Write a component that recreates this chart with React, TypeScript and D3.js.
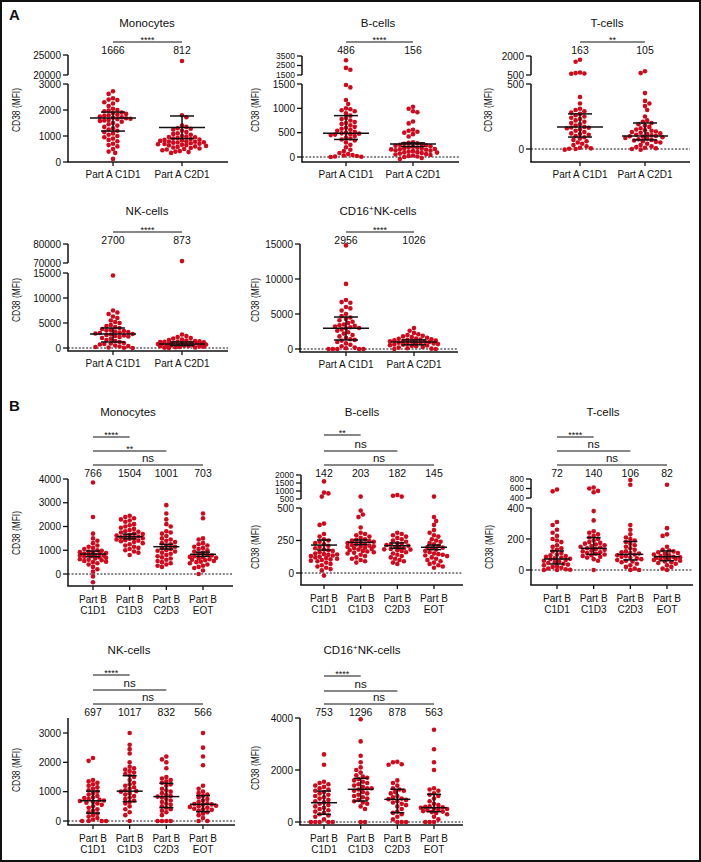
import React from 'react';
import * as d3 from 'd3';

const FONT = 'Liberation Sans, Arial, Helvetica, sans-serif';
const RED = '#cf0a1d';

// categories
const partACats = ['Part A C1D1', 'Part A C2D1'];
const partBCats = ['C1D1', 'C1D3', 'C2D3', 'EOT'];

// ---------- Part A ----------
// Monocytes
const monoA_C1D1 = [2720, 2620, 2450, 2400, 2380, 2300, 2250, 2150, 2050, 2000, 1980, 1950, 1900, 1880, 1850, 1820, 1800, 1780, 1750, 1720, 1700, 1680, 1666, 1650, 1620, 1600, 1580, 1550, 1500, 1450, 1400, 1350, 1300, 1250, 1200, 1150, 1100, 1050, 1000, 950, 900, 850, 800, 700, 650, 600, 500, 400, 350, 120];
const monoA_C2D1 = [23500, 1800, 1720, 1400, 1350, 1300, 1280, 1250, 1200, 1150, 1100, 1080, 1050, 1000, 980, 960, 950, 920, 900, 880, 860, 850, 830, 812, 800, 790, 780, 760, 750, 740, 720, 700, 690, 680, 660, 650, 640, 620, 600, 580, 560, 540, 520, 500, 480, 450, 420, 400, 380, 350];
const monoA_center = [1690, 1330];
const monoA_hi = [1920, 1770];
const monoA_lo = [1190, 900];
const monoA_medians = ['1666', '812'];
const monoA_sig = ['****'];

// B-cells
const bA_C1D1 = [3050, 2250, 2050, 1480, 1430, 1170, 1090, 1000, 980, 960, 940, 900, 850, 800, 780, 750, 720, 700, 680, 650, 620, 600, 580, 560, 540, 520, 500, 486, 480, 470, 460, 450, 430, 400, 380, 360, 340, 300, 250, 200, 150, 120, 80, 60, 40, 30, 20, 10, 5, 0];
const bA_C2D1 = [1030, 990, 940, 920, 730, 690, 560, 540, 520, 500, 470, 420, 300, 290, 280, 270, 260, 250, 240, 230, 220, 210, 200, 190, 180, 170, 165, 160, 156, 150, 140, 130, 120, 110, 100, 95, 90, 80, 70, 60, 50, 40, 30, 20, 10, 0, -20, -40];
const bA_center = [490, 265];
const bA_hi = [850, 290];
const bA_lo = [360, 215];
const bA_medians = ['486', '156'];
const bA_sig = ['****'];

// T-cells
const tA_C1D1 = [1700, 1550, 700, 650, 620, 600, 400, 350, 310, 300, 290, 280, 270, 260, 250, 240, 230, 220, 210, 200, 190, 180, 170, 165, 163, 160, 150, 140, 130, 120, 115, 110, 100, 90, 80, 70, 60, 50, 40, 30, 20, 10, 5, 2, 0, -5];
const tA_C2D1 = [800, 650, 430, 370, 350, 330, 300, 250, 220, 210, 200, 190, 180, 170, 160, 150, 145, 140, 135, 130, 125, 120, 115, 110, 105, 100, 98, 95, 90, 85, 80, 75, 70, 65, 60, 55, 50, 40, 30, 20, 15, 10, 5, 0, -5];
const tA_center = [169, 100];
const tA_hi = [270, 200];
const tA_lo = [92, 70];
const tA_medians = ['163', '105'];
const tA_sig = ['**'];

// NK-cells
const nkA_C1D1 = [14500, 7500, 7100, 6800, 6300, 6000, 5500, 5200, 5000, 4600, 4400, 4200, 4000, 3800, 3600, 3500, 3400, 3300, 3200, 3100, 3000, 2900, 2800, 2700, 2600, 2500, 2400, 2300, 2200, 2000, 1800, 1600, 1400, 1200, 1000, 900, 800, 700, 500, 400, 300, 200, 100, 50, 0];
const nkA_C2D1 = [71000, 2700, 2400, 2200, 2000, 1900, 1700, 1600, 1500, 1400, 1350, 1300, 1250, 1200, 1150, 1100, 1050, 1000, 950, 900, 873, 850, 800, 750, 700, 650, 600, 550, 500, 450, 400, 350, 300, 250, 200, 150, 100, 50, 0];
const nkA_center = [2800, 800];
const nkA_hi = [4000, 1200];
const nkA_lo = [1200, 500];
const nkA_medians = ['2700', '873'];
const nkA_sig = ['****'];

// CD16+ NK-cells
const cdA_C1D1 = [14800, 9300, 7000, 6700, 6600, 6000, 5800, 5500, 5000, 4700, 4500, 4300, 4100, 3900, 3700, 3500, 3400, 3300, 3200, 3100, 3000, 2956, 2800, 2600, 2400, 2200, 2000, 1800, 1600, 1400, 1300, 1200, 1000, 800, 600, 400, 200, 100, 0, 0, 0, 0, 0];
const cdA_C2D1 = [3000, 2600, 2300, 2100, 2000, 1900, 1800, 1700, 1600, 1500, 1450, 1400, 1350, 1300, 1250, 1200, 1150, 1100, 1050, 1026, 1000, 950, 900, 850, 800, 750, 700, 650, 600, 550, 500, 450, 400, 300, 200, 100, 50, 0, 0];
const cdA_center = [2956, 1000];
const cdA_hi = [4570, 1300];
const cdA_lo = [1290, 600];
const cdA_medians = ['2956', '1026'];
const cdA_sig = ['****'];

// ---------- Part B ----------
// Monocytes
const monoB_C1D1 = [3850, 2400, 1700, 1500, 1400, 1300, 1200, 1150, 1100, 1050, 1000, 980, 950, 920, 900, 880, 860, 840, 820, 800, 780, 766, 750, 730, 700, 680, 650, 620, 600, 580, 550, 520, 500, 450, 400, 300, 200, 100, -100, -350];
const monoB_C1D3 = [2450, 2400, 2350, 2300, 2250, 2200, 2100, 2050, 2000, 1950, 1900, 1850, 1800, 1780, 1750, 1700, 1680, 1650, 1620, 1600, 1580, 1550, 1520, 1504, 1480, 1450, 1420, 1400, 1380, 1350, 1300, 1250, 1200, 1150, 1100, 1050, 1000, 950, 900, 800];
const monoB_C2D3 = [2900, 2550, 2300, 2100, 2000, 1800, 1750, 1700, 1600, 1500, 1450, 1400, 1350, 1300, 1250, 1200, 1150, 1100, 1050, 1001, 980, 950, 900, 850, 800, 750, 700, 650, 600, 550, 500, 450, 400, 350, 300];
const monoB_EOT = [2550, 2350, 1500, 1450, 1300, 1250, 1200, 1150, 1100, 1050, 1000, 950, 900, 850, 800, 780, 750, 720, 703, 680, 650, 620, 600, 580, 550, 520, 500, 450, 400, 350, 300, 250, 150, 0];
const monoB_center = [842, 1570, 1150, 830];
const monoB_hi = [968, 1680, 1250, 920];
const monoB_lo = [730, 1480, 1050, 740];
const monoB_medians = ['766', '1504', '1001', '703'];
const monoB_sig = ['****', '**', 'ns'];

// B-cells
const bB_C1D1 = [1600, 900, 850, 650, 380, 370, 300, 280, 260, 250, 240, 230, 220, 210, 200, 190, 180, 175, 170, 160, 150, 145, 142, 140, 135, 130, 125, 120, 115, 110, 105, 100, 95, 90, 80, 70, 60, 50, 40, 30, 20, -20];
const bB_C1D3 = [650, 480, 450, 430, 350, 310, 300, 290, 280, 270, 260, 255, 250, 245, 240, 235, 230, 225, 220, 215, 210, 205, 203, 200, 195, 190, 185, 180, 175, 170, 165, 160, 155, 150, 140, 130, 120, 110, 100, 90, 80];
const bB_C2D3 = [750, 700, 650, 310, 300, 290, 280, 270, 260, 250, 240, 230, 225, 220, 215, 210, 200, 195, 190, 185, 182, 180, 175, 170, 160, 150, 140, 130, 120, 110, 100, 90, 80, 70];
const bB_EOT = [650, 430, 400, 370, 330, 310, 290, 280, 260, 250, 240, 230, 220, 210, 200, 195, 190, 180, 170, 160, 150, 145, 140, 135, 130, 120, 110, 100, 90, 80, 70, 60, 50, 40];
const bB_center = [215, 236, 210, 198];
const bB_hi = [254, 254, 231, 215];
const bB_lo = [177, 218, 190, 180];
const bB_medians = ['142', '203', '182', '145'];
const bB_sig = ['**', 'ns', 'ns'];

// T-cells
const tB_C1D1 = [580, 540, 310, 290, 260, 240, 220, 200, 190, 180, 160, 150, 140, 130, 120, 110, 100, 95, 90, 85, 80, 75, 72, 70, 65, 60, 55, 50, 45, 40, 35, 30, 25, 20, 15, 10, 5, 2, 0, 0];
const tB_C1D3 = [620, 600, 550, 520, 380, 320, 250, 240, 230, 220, 210, 200, 190, 180, 175, 170, 165, 160, 155, 150, 145, 140, 135, 130, 125, 120, 115, 110, 105, 100, 95, 90, 85, 80, 70, 60, 0];
const tB_C2D3 = [780, 680, 290, 260, 230, 210, 200, 190, 180, 170, 160, 150, 140, 130, 120, 115, 110, 106, 100, 95, 90, 85, 80, 75, 70, 65, 60, 55, 50, 40, 30, 20, 10, 0, 0];
const tB_EOT = [680, 270, 230, 220, 150, 130, 125, 120, 115, 110, 105, 100, 95, 90, 85, 82, 80, 78, 75, 72, 70, 65, 60, 55, 50, 45, 40, 30, 20, 10, 0];
const tB_center = [71, 140, 101, 86];
const tB_hi = [123, 209, 184, 123];
const tB_lo = [39, 101, 65, 60];
const tB_medians = ['72', '140', '106', '82'];
const tB_sig = ['****', 'ns', 'ns'];

// NK-cells
const nkB_C1D1 = [2150, 2050, 1400, 1350, 1300, 1250, 1200, 1150, 1100, 1050, 1000, 950, 900, 850, 800, 780, 750, 720, 697, 680, 650, 620, 600, 550, 500, 450, 400, 350, 300, 250, 200, 150, 100, 50, 0, 0, 0, 0];
const nkB_C1D3 = [3000, 2600, 2450, 2300, 2000, 1850, 1800, 1750, 1700, 1650, 1600, 1550, 1500, 1400, 1300, 1250, 1200, 1150, 1100, 1050, 1017, 1000, 950, 900, 850, 800, 750, 700, 650, 600, 500, 400, 300, 200, 0];
const nkB_C2D3 = [2200, 2100, 2000, 1800, 1500, 1450, 1400, 1350, 1300, 1250, 1200, 1100, 1050, 1000, 950, 900, 850, 832, 800, 750, 700, 650, 600, 550, 500, 450, 400, 350, 300, 200, 0, 0, 0, 0];
const nkB_EOT = [3000, 2500, 2200, 1900, 1200, 1100, 1000, 950, 900, 850, 800, 750, 700, 650, 600, 580, 566, 550, 520, 500, 480, 450, 420, 400, 380, 350, 300, 250, 200, 100, 0, 0];
const nkB_center = [690, 1017, 832, 570];
const nkB_hi = [1020, 1545, 1285, 865];
const nkB_lo = [270, 660, 455, 320];
const nkB_medians = ['697', '1017', '832', '566'];
const nkB_sig = ['****', 'ns', 'ns'];

// CD16+ NK-cells
const cdB_C1D1 = [2600, 2200, 1550, 1500, 1450, 1400, 1350, 1300, 1250, 1200, 1150, 1100, 1050, 1000, 950, 900, 850, 800, 753, 700, 650, 600, 550, 500, 450, 400, 350, 300, 250, 200, 100, 0, 0, 0, 0, 0];
const cdB_C1D3 = [3950, 3100, 2550, 2300, 2100, 2000, 1900, 1800, 1750, 1700, 1650, 1600, 1550, 1500, 1450, 1400, 1350, 1300, 1296, 1250, 1200, 1150, 1100, 1050, 1000, 950, 900, 850, 800, 750, 700, 600, 500, 0, 0];
const cdB_C2D3 = [2320, 2300, 2220, 2200, 1600, 1500, 1400, 1300, 1250, 1200, 1150, 1100, 1000, 950, 900, 878, 850, 800, 750, 700, 650, 600, 500, 400, 350, 300, 200, 100, 0, 0, 0];
const cdB_EOT = [3550, 2800, 2300, 2000, 1300, 1250, 1200, 1100, 1050, 1000, 900, 800, 700, 650, 600, 580, 563, 550, 520, 500, 480, 450, 420, 400, 380, 350, 300, 200, 100, 0, 0, 0];
const cdB_center = [742, 1257, 873, 550];
const cdB_hi = [1190, 1680, 1258, 1065];
const cdB_lo = [296, 808, 358, 396];
const cdB_medians = ['753', '1296', '878', '563'];
const cdB_sig = ['****', 'ns', 'ns'];

// axis tick values
const monoA_ticks = [0, 1000, 2000, 3000];
const monoA_upTicks = [20000, 25000];
const bA_ticks = [0, 500, 1000, 1500];
const bA_upTicks = [1500, 2500, 3500];
const tA_ticks = [0, 500];
const tA_upTicks = [500, 2000];
const nkA_ticks = [0, 5000, 10000, 15000];
const nkA_upTicks = [70000, 80000];
const cdA_ticks = [0, 5000, 10000, 15000];
const monoB_ticks = [0, 1000, 2000, 3000, 4000];
const bB_ticks = [0, 250, 500];
const bB_upTicks = [500, 1000, 1500, 2000];
const tB_ticks = [0, 200, 400];
const tB_upTicks = [400, 600, 800];
const nkB_ticks = [0, 1000, 2000, 3000];
const cdB_ticks = [0, 2000, 4000];

type Panel = {
  title: string;
  sup?: boolean;
  partB: boolean;
  cats: string[];
  groups: number[][];
  center: number[];
  hi: number[];
  lo: number[];
  medians: string[];
  sig: string[];
  ticks: number[];
  ticksPx: [number, number];
  axisTop: number;
  upTicks?: number[];
  upPx?: [number, number];
  x0: number;
  x1: number;
  axisY: number;
  catRange: [number, number];
  zeroLine: boolean;
  titleX: number;
  titleY: number;
  ylabX: number;
  ylabY: number;
  sigY: number[];
  medY: number;
};

const panels: Panel[] = [
  {
    title: 'Monocytes', partB: false, cats: partACats, groups: [monoA_C1D1, monoA_C2D1],
    center: monoA_center, hi: monoA_hi, lo: monoA_lo, medians: monoA_medians, sig: monoA_sig,
    ticks: monoA_ticks, ticksPx: [162, 84], axisTop: 84, upTicks: monoA_upTicks, upPx: [75, 55],
    x0: 68, x1: 228, axisY: 162, catRange: [113, 182], zeroLine: false,
    titleX: 147, titleY: 27, ylabX: 20, ylabY: 110, sigY: [42], medY: 54,
  },
  {
    title: 'B-cells', partB: false, cats: partACats, groups: [bA_C1D1, bA_C2D1],
    center: bA_center, hi: bA_hi, lo: bA_lo, medians: bA_medians, sig: bA_sig,
    ticks: bA_ticks, ticksPx: [157, 84], axisTop: 84, upTicks: bA_upTicks, upPx: [75, 56],
    x0: 302, x1: 459, axisY: 162, catRange: [346, 413], zeroLine: true,
    titleX: 378, titleY: 27, ylabX: 259, ylabY: 110, sigY: [42], medY: 54,
  },
  {
    title: 'T-cells', partB: false, cats: partACats, groups: [tA_C1D1, tA_C2D1],
    center: tA_center, hi: tA_hi, lo: tA_lo, medians: tA_medians, sig: tA_sig,
    ticks: tA_ticks, ticksPx: [149, 84], axisTop: 84, upTicks: tA_upTicks, upPx: [75, 56],
    x0: 531, x1: 690, axisY: 162, catRange: [580, 645], zeroLine: true,
    titleX: 607, titleY: 27, ylabX: 492, ylabY: 110, sigY: [42], medY: 54,
  },
  {
    title: 'NK-cells', partB: false, cats: partACats, groups: [nkA_C1D1, nkA_C2D1],
    center: nkA_center, hi: nkA_hi, lo: nkA_lo, medians: nkA_medians, sig: nkA_sig,
    ticks: nkA_ticks, ticksPx: [348, 273], axisTop: 273, upTicks: nkA_upTicks, upPx: [263, 244],
    x0: 68, x1: 228, axisY: 351, catRange: [113, 182], zeroLine: true,
    titleX: 147, titleY: 215, ylabX: 20, ylabY: 300, sigY: [232], medY: 244,
  },
  {
    title: 'CD16', sup: true, partB: false, cats: partACats, groups: [cdA_C1D1, cdA_C2D1],
    center: cdA_center, hi: cdA_hi, lo: cdA_lo, medians: cdA_medians, sig: cdA_sig,
    ticks: cdA_ticks, ticksPx: [349, 244], axisTop: 244,
    x0: 300, x1: 458, axisY: 352, catRange: [346, 414], zeroLine: true,
    titleX: 378, titleY: 215, ylabX: 259, ylabY: 300, sigY: [232], medY: 244,
  },
  {
    title: 'Monocytes', partB: true, cats: partBCats, groups: [monoB_C1D1, monoB_C1D3, monoB_C2D3, monoB_EOT],
    center: monoB_center, hi: monoB_hi, lo: monoB_lo, medians: monoB_medians, sig: monoB_sig,
    ticks: monoB_ticks, ticksPx: [574, 479], axisTop: 479,
    x0: 68, x1: 233, axisY: 586, catRange: [93, 203], zeroLine: true,
    titleX: 128, titleY: 416, ylabX: 20, ylabY: 533, sigY: [437, 451, 465], medY: 477,
  },
  {
    title: 'B-cells', partB: true, cats: partBCats, groups: [bB_C1D1, bB_C1D3, bB_C2D3, bB_EOT],
    center: bB_center, hi: bB_hi, lo: bB_lo, medians: bB_medians, sig: bB_sig,
    ticks: bB_ticks, ticksPx: [573, 508], axisTop: 508, upTicks: bB_upTicks, upPx: [499, 475],
    x0: 301, x1: 463, axisY: 585, catRange: [324, 434], zeroLine: true,
    titleX: 362, titleY: 416, ylabX: 259, ylabY: 547, sigY: [435, 451, 465], medY: 477,
  },
  {
    title: 'T-cells', partB: true, cats: partBCats, groups: [tB_C1D1, tB_C1D3, tB_C2D3, tB_EOT],
    center: tB_center, hi: tB_hi, lo: tB_lo, medians: tB_medians, sig: tB_sig,
    ticks: tB_ticks, ticksPx: [570, 508], axisTop: 508, upTicks: tB_upTicks, upPx: [498, 479],
    x0: 531, x1: 693, axisY: 585, catRange: [557, 667], zeroLine: true,
    titleX: 603, titleY: 416, ylabX: 493, ylabY: 547, sigY: [437, 451, 465], medY: 477,
  },
  {
    title: 'NK-cells', partB: true, cats: partBCats, groups: [nkB_C1D1, nkB_C1D3, nkB_C2D3, nkB_EOT],
    center: nkB_center, hi: nkB_hi, lo: nkB_lo, medians: nkB_medians, sig: nkB_sig,
    ticks: nkB_ticks, ticksPx: [821, 733], axisTop: 718,
    x0: 68, x1: 235, axisY: 825, catRange: [93, 203], zeroLine: true,
    titleX: 129, titleY: 654, ylabX: 20, ylabY: 770, sigY: [675, 690, 704], medY: 716,
  },
  {
    title: 'CD16', sup: true, partB: true, cats: partBCats, groups: [cdB_C1D1, cdB_C1D3, cdB_C2D3, cdB_EOT],
    center: cdB_center, hi: cdB_hi, lo: cdB_lo, medians: cdB_medians, sig: cdB_sig,
    ticks: cdB_ticks, ticksPx: [822, 718], axisTop: 718,
    x0: 300, x1: 463, axisY: 825, catRange: [324, 434], zeroLine: true,
    titleX: 362, titleY: 654, ylabX: 259, ylabY: 768, sigY: [676, 691, 704], medY: 716,
  },
];

const R = 2.3;

// beeswarm placement within a max half-width; overlaps allowed when crowded
function swarm(ys: number[], cx: number, d: number, maxW: number): number[] {
  const order = d3.range(ys.length).sort((a, b) => ys[a] - ys[b]);
  const placed: [number, number][] = [];
  const xs = new Array(ys.length).fill(cx);
  const step = d * 0.5;
  const nSteps = Math.floor(maxW / step);
  order.forEach((i, n) => {
    const y = ys[i];
    const near = placed.filter((p) => Math.abs(p[1] - y) < d);
    let best = cx;
    let bestD = -1;
    for (let k = 0; k <= nSteps * 2; k++) {
      const sign = (k % 2 === 1 ? 1 : -1) * (n % 2 === 0 ? 1 : -1);
      const x = cx + (k === 0 ? 0 : sign * Math.ceil(k / 2) * step);
      const md = near.length ? d3.min(near, (p) => (p[0] - x) ** 2 + (p[1] - y) ** 2)! : Infinity;
      if (md >= d * d) {
        best = x;
        bestD = md;
        break;
      }
      if (md > bestD) {
        bestD = md;
        best = x;
      }
    }
    xs[i] = best;
    placed.push([best, y]);
  });
  return xs;
}

function PanelChart({ p }: { p: Panel }) {
  const lower = d3.scaleLinear().domain([p.ticks[0], p.ticks[p.ticks.length - 1]]).range(p.ticksPx);
  const upper = p.upTicks && p.upPx
    ? d3.scaleLinear().domain([p.upTicks[0], p.upTicks[p.upTicks.length - 1]]).range(p.upPx)
    : null;
  const lowMax = p.ticks[p.ticks.length - 1];
  const yv = (v: number) => (upper && v > lowMax ? upper(v) : lower(v));
  const x = d3.scalePoint<string>().domain(p.cats).range(p.catRange);
  const cw = p.partB ? 13 : 23;
  const capW = p.partB ? 7 : 12;
  const maxW = p.partB ? 15 : 26;
  const sw = 1.5;
  const upFont = p.upTicks && p.upPx && Math.abs(p.upPx[0] - p.upPx[1]) / (p.upTicks.length - 1) < 10 ? 8.5 : 10;

  return (
    <g fontFamily={FONT}>
      {/* title */}
      <text x={p.titleX} y={p.titleY} textAnchor="middle" fontSize={11.5} fill="#111">
        {p.sup ? (
          <>
            CD16<tspan dy={-4} fontSize={8}>+</tspan>
            <tspan dy={4}>NK-cells</tspan>
          </>
        ) : p.title}
      </text>

      {/* significance brackets */}
      {p.sig.map((s, i) => {
        const xa = x(p.cats[0])!;
        const xb = x(p.cats[i + 1])!;
        const y = p.sigY[i];
        const ns = s === 'ns';
        return (
          <g key={'s' + i}>
            <line x1={xa} x2={xb} y1={y} y2={y} stroke="#111" strokeWidth={1.1} />
            <text x={(xa + xb) / 2} y={ns ? y - 3 : y + 1} textAnchor="middle" fontSize={ns ? 11.5 : 9} fill="#111">{s}</text>
          </g>
        );
      })}

      {/* medians */}
      {p.medians.map((m, i) => (
        <text key={'m' + i} x={x(p.cats[i])!} y={p.medY} textAnchor="middle" fontSize={10.5} fill="#111">{m}</text>
      ))}

      {/* zero line */}
      {p.zeroLine && (
        <line x1={p.x0} x2={p.x1} y1={lower(0)} y2={lower(0)} stroke="#111" strokeWidth={1} strokeDasharray="2,1.6" />
      )}

      {/* y axis lower */}
      <line x1={p.x0} x2={p.x0} y1={p.axisY} y2={p.axisTop} stroke="#111" strokeWidth={sw} />
      {p.ticks.map((t) => (
        <g key={'t' + t}>
          <line x1={p.x0 - 5} x2={p.x0} y1={lower(t)} y2={lower(t)} stroke="#111" strokeWidth={1.3} />
          <text x={p.x0 - 7} y={lower(t)} dy="0.35em" textAnchor="end" fontSize={10} fill="#111">{t}</text>
        </g>
      ))}
      {upper && p.upTicks && p.upPx && (
        <g>
          <line x1={p.x0} x2={p.x0} y1={p.upPx[0]} y2={p.upPx[1]} stroke="#111" strokeWidth={sw} />
          {p.upTicks.map((t) => (
            <g key={'u' + t}>
              <line x1={p.x0 - 5} x2={p.x0} y1={upper(t)} y2={upper(t)} stroke="#111" strokeWidth={1.3} />
              <text x={p.x0 - 7} y={upper(t)} dy="0.35em" textAnchor="end" fontSize={upFont} fill="#111">{t}</text>
            </g>
          ))}
        </g>
      )}
      <text
        transform={`translate(${p.ylabX},${p.ylabY}) rotate(-90)`}
        textAnchor="middle" fontSize={10.5} fill="#111"
        textLength={44} lengthAdjust="spacingAndGlyphs"
      >CD38 (MFI)</text>

      {/* x axis */}
      <line x1={p.x0 - sw / 2} x2={p.x1} y1={p.axisY} y2={p.axisY} stroke="#111" strokeWidth={sw} />
      {p.cats.map((c) => (
        <g key={'c' + c}>
          <line x1={x(c)!} x2={x(c)!} y1={p.axisY} y2={p.axisY + 4} stroke="#111" strokeWidth={1.3} />
          {p.partB ? (
            <>
              <text x={x(c)!} y={p.axisY + 16.5} textAnchor="middle" fontSize={10} fill="#111">Part B</text>
              <text x={x(c)!} y={p.axisY + 28} textAnchor="middle" fontSize={10} fill="#111">{c}</text>
            </>
          ) : (
            <text x={x(c)!} y={p.axisY + 16} textAnchor="middle" fontSize={10} fill="#111">{c}</text>
          )}
        </g>
      ))}

      {/* dots */}
      {p.groups.map((vals, gi) => {
        const cx = x(p.cats[gi])!;
        const ys = vals.map(yv);
        const xs = swarm(ys, cx, R * 1.9, maxW);
        return (
          <g key={'g' + gi}>
            {vals.map((_, i) => (
              <circle key={i} cx={xs[i]} cy={ys[i]} r={R} fill={RED} />
            ))}
          </g>
        );
      })}

      {/* center line and whiskers */}
      {p.cats.map((c, gi) => {
        const cx = x(c)!;
        const yc = yv(p.center[gi]);
        const yh = yv(p.hi[gi]);
        const yl = yv(p.lo[gi]);
        return (
          <g key={'e' + gi} stroke="#111" strokeWidth={1.5}>
            <line x1={cx - cw} x2={cx + cw} y1={yc} y2={yc} />
            <line x1={cx} x2={cx} y1={yh} y2={yl} />
            <line x1={cx - capW} x2={cx + capW} y1={yh} y2={yh} />
            <line x1={cx - capW} x2={cx + capW} y1={yl} y2={yl} />
          </g>
        );
      })}
    </g>
  );
}

export default function App() {
  return (
    <svg
      width={701}
      height={862}
      style={{ position: 'absolute', left: 0, top: 0, background: '#fff' }}
    >
      <rect x={0} y={0} width={701} height={862} fill="#fff" />
      <rect x={1} y={1} width={699} height={860} fill="none" stroke="#111" strokeWidth={2} />
      <text x={9} y={20} fontFamily={FONT} fontWeight="bold" fontSize={15} fill="#111">A</text>
      <text x={9} y={411} fontFamily={FONT} fontWeight="bold" fontSize={15} fill="#111">B</text>
      {panels.map((p, i) => (
        <PanelChart key={i} p={p} />
      ))}
    </svg>
  );
}
